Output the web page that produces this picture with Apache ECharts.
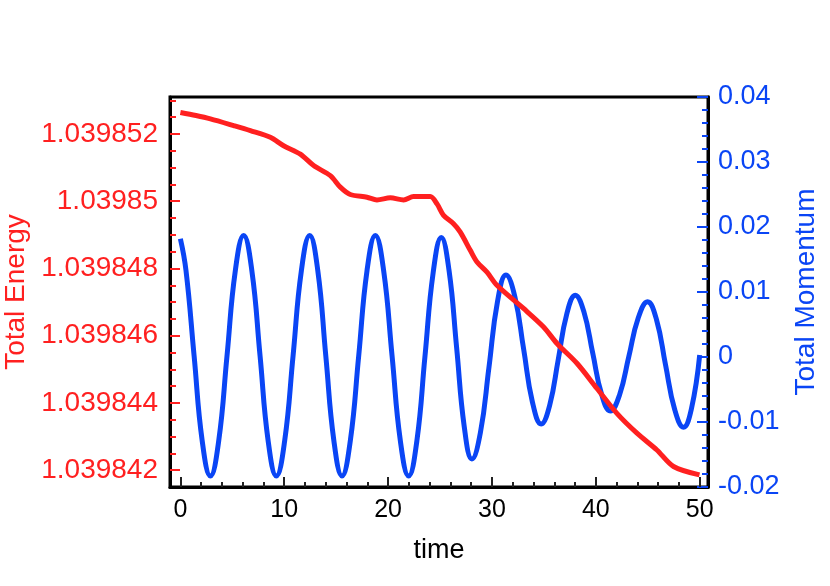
<!DOCTYPE html>
<html>
<head>
<meta charset="utf-8">
<script src="https://cdn.jsdelivr.net/npm/echarts@6/dist/echarts.min.js"></script>
<style>
  html, body { margin: 0; padding: 0; background: #fff; }
  #chart { width: 830px; height: 586px; }
</style>
</head>
<body>
<div id="chart"></div>
<script>
// energy trace (left axis)
const timeE = [0, 1.5, 2.89, 5.13, 6.74, 8.66, 9.94, 11.55, 12.83, 14.44, 15.4, 16.36,
  17.97, 18.93, 20.21, 21.49, 22.45, 24.06, 24.71, 25.34, 26.3, 26.95, 27.91, 28.56,
  29.52, 30.48, 33.04, 34.97, 36.26, 38.18, 40.11, 42.03, 43.96, 45.88, 47.48, 49.98]
const energy = [1.03985264, 1.03985255, 1.03985245, 1.03985225, 1.0398521, 1.0398519,
  1.03985165, 1.0398514, 1.03985106, 1.03985076, 1.03985042, 1.0398502, 1.03985012,
  1.03985004, 1.0398501, 1.03985004, 1.03985014, 1.03985014, 1.03984992, 1.03984958,
  1.03984933, 1.03984908, 1.03984854, 1.03984819, 1.03984789, 1.0398475, 1.03984681,
  1.03984626, 1.03984577, 1.03984518, 1.03984443, 1.03984369, 1.0398431, 1.0398426,
  1.03984211, 1.03984186]

// momentum trace (right axis)
const timeP = [0, 0.54, 1.32, 2.1, 2.89, 3.69, 4.49, 5.29, 6.09, 6.88, 7.67, 8.45, 9.24,
  10.04, 10.85, 11.65, 12.45, 13.23, 14.0, 14.78, 15.56, 16.36, 17.17, 17.97, 18.77,
  19.57, 20.38, 21.18, 21.98, 22.77, 23.55, 24.34, 25.12, 25.86, 26.6, 27.33, 28.07,
  28.89, 29.71, 30.53, 31.35, 32.2, 33.05, 33.89, 34.74, 35.56, 36.38, 37.2, 38.02,
  38.86, 39.7, 40.55, 41.39, 42.29, 43.18, 44.08, 44.98, 45.85, 46.71, 47.58, 48.44,
  49.2, 50.0]
const momentum = [0.0182, 0.0133, 0.0002, -0.0129, -0.0183, -0.0129, 0.0002, 0.0133, 0.0187,
  0.0133, 0.0002, -0.0129, -0.0183, -0.0129, 0.0002, 0.0133, 0.0187, 0.0133, 0.0002,
  -0.0129, -0.0183, -0.0129, 0.0002, 0.0133, 0.0187, 0.0133, 0.0002, -0.0129, -0.0183,
  -0.0129, 0.0001, 0.013, 0.0184, 0.0134, 0.0014, -0.0107, -0.0157, -0.0116, -0.0016,
  0.0085, 0.0126, 0.0093, 0.0012, -0.0069, -0.0103, -0.0074, -0.0004, 0.0066, 0.0095,
  0.0069, 0.0006, -0.0057, -0.0083, -0.0058, 0.0001, 0.006, 0.0085, 0.0057, -0.0012,
  -0.008, -0.0108, -0.008, 0.0003]

// tick labels
const timeTicks = [0, 10, 20, 30, 40, 50]
const energyTicks = [1.039842, 1.039844, 1.039846, 1.039848, 1.03985, 1.039852]

const E_MIN = 1.0398415
const E_MAX = 1.0398531

const RED = '#ff2020'
const BLUE = '#0a45f5'
const FONT = 'Liberation Sans'

const timeMinor = []
timeTicks.forEach(t => {
  for (let k = 1; k < 5; k++) {
    if (t + 2 * k < 50) timeMinor.push(t + 2 * k)
  }
})

const energyMinor = []
energyTicks.forEach((m, i) => {
  if (i === 0) energyMinor.push(m - 5e-7)
  for (let k = 1; k < 4; k++) energyMinor.push(m + k * 5e-7)
})
const energyMinorIn = energyMinor.filter(v => v >= E_MIN && v <= E_MAX)

const chart = echarts.init(document.getElementById('chart'))

chart.setOption({
  backgroundColor: '#fff',
  animation: false,
  grid: {
    left: 170,
    right: 122,
    top: 97,
    bottom: 99,
    outerBoundsMode: 'none',
    show: true,
    borderColor: '#000',
    borderWidth: 3,
  },
  xAxis: [
    {
      type: 'value',
      min: -1,
      max: 50.8,
      name: 'time',
      nameLocation: 'middle',
      nameGap: 50,
      nameTextStyle: { fontFamily: FONT, fontSize: 27, color: '#000' },
      axisLine: { onZero: false, lineStyle: { color: '#000', width: 3 } },
      axisTick: { inside: true, length: 10, customValues: timeTicks, lineStyle: { color: '#222', width: 2 } },
      axisLabel: {
        customValues: timeTicks,
        fontFamily: FONT,
        fontSize: 25,
        color: '#000',
        margin: 11,
      },
      splitLine: { show: false },
    },
    {
      type: 'value',
      min: -1,
      max: 50.8,
      position: 'bottom',
      axisLine: { show: false, onZero: false },
      axisLabel: { show: false },
      axisTick: { inside: true, length: 5, customValues: timeMinor, lineStyle: { color: '#222', width: 2 } },
      splitLine: { show: false },
    },
  ],
  yAxis: [
    {
      type: 'value',
      position: 'left',
      min: E_MIN,
      max: E_MAX,
      name: 'Total Energy',
      nameLocation: 'middle',
      nameRotate: 90,
      nameGap: 133,
      nameTextStyle: { fontFamily: FONT, fontSize: 28, color: RED },
      axisLine: { show: true, onZero: false, lineStyle: { color: '#000', width: 3 } },
      axisTick: { inside: true, length: 10, customValues: energyTicks, lineStyle: { color: RED, width: 2 } },
      axisLabel: {
        customValues: energyTicks,
        formatter: v => String(parseFloat(v.toFixed(6))),
        fontFamily: FONT,
        fontSize: 28,
        color: RED,
        margin: 12,
      },
      splitLine: { show: false },
    },
    {
      type: 'value',
      position: 'right',
      min: -0.02,
      max: 0.04,
      interval: 0.01,
      name: 'Total Momentum',
      nameLocation: 'middle',
      nameRotate: 90,
      nameGap: 84,
      nameTextStyle: { fontFamily: FONT, fontSize: 28, color: BLUE },
      axisLine: { show: true, onZero: false, lineStyle: { color: '#000', width: 3 } },
      axisTick: { inside: true, length: 11, lineStyle: { color: BLUE, width: 2 } },
      minorTick: { show: true, splitNumber: 5, length: 6, lineStyle: { color: BLUE, width: 2 } },
      axisLabel: {
        fontFamily: FONT,
        fontSize: 27,
        color: BLUE,
        margin: 10,
      },
      splitLine: { show: false },
      minorSplitLine: { show: false },
    },
    {
      type: 'value',
      position: 'left',
      min: E_MIN,
      max: E_MAX,
      axisLine: { show: false, onZero: false },
      axisLabel: { show: false },
      axisTick: { inside: true, length: 6, customValues: energyMinorIn, lineStyle: { color: RED, width: 2 } },
      splitLine: { show: false },
    },
  ],
  series: [
    {
      type: 'line',
      name: 'Total Momentum',
      xAxisIndex: 0,
      yAxisIndex: 1,
      data: timeP.map((t, i) => [t, momentum[i]]),
      smooth: 0.45,
      showSymbol: false,
      lineStyle: { color: BLUE, width: 5 },
    },
    {
      type: 'line',
      name: 'Total Energy',
      xAxisIndex: 0,
      yAxisIndex: 0,
      data: timeE.map((t, i) => [t, energy[i]]),
      smooth: 0.3,
      showSymbol: false,
      lineStyle: { color: RED, width: 5 },
    },
  ],
})
</script>
</body>
</html>
